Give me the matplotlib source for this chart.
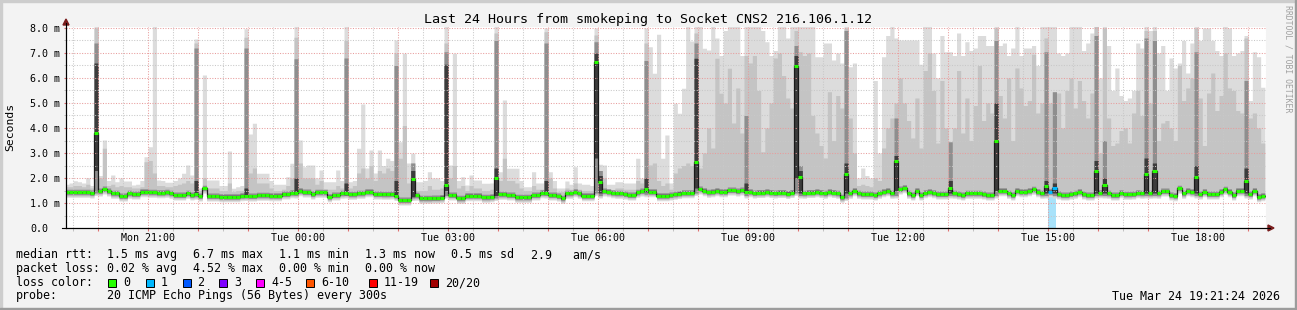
import matplotlib
matplotlib.use('Agg')
import matplotlib.pyplot as plt
from matplotlib.patches import Rectangle, Polygon
from matplotlib.lines import Line2D
from matplotlib.ticker import MultipleLocator, FuncFormatter
import numpy as np

plt.rcParams['font.family'] = ['DejaVu Sans Mono']

# 5 minute steps starting Mon 19:00, one row per hour (last value of a row = step ending on the hour)
median_ms = [
    1.43, 1.43, 1.43, 1.43, 1.43, 1.43, 1.43, 1.43, 1.43, 1.43, 1.40, 3.81,
    1.48, 1.56, 1.48, 1.39, 1.39, 1.28, 1.28, 1.39, 1.36, 1.36, 1.45, 1.45,
    1.43, 1.43, 1.41, 1.41, 1.43, 1.39, 1.32, 1.32, 1.32, 1.39, 1.32, 1.36,
    1.28, 1.59, 1.28, 1.28, 1.28, 1.25, 1.25, 1.25, 1.25, 1.25, 1.29, 1.29,
    1.28, 1.28, 1.31, 1.31, 1.31, 1.29, 1.29, 1.29, 1.36, 1.36, 1.41, 1.41,
    1.49, 1.44, 1.44, 1.36, 1.43, 1.43, 1.43, 1.25, 1.32, 1.32, 1.39, 1.39,
    1.35, 1.35, 1.39, 1.39, 1.45, 1.45, 1.36, 1.36, 1.35, 1.35, 1.36, 1.30,
    1.12, 1.12, 1.12, 1.97, 1.31, 1.19, 1.19, 1.19, 1.20, 1.20, 1.22, 1.72,
    1.32, 1.32, 1.19, 1.19, 1.29, 1.29, 1.29, 1.29, 1.23, 1.23, 1.25, 1.99,
    1.35, 1.35, 1.32, 1.32, 1.23, 1.23, 1.23, 1.23, 1.32, 1.32, 1.41, 1.41,
    1.32, 1.32, 1.28, 1.19, 1.39, 1.39, 1.45, 1.39, 1.29, 1.29, 1.29, 6.65,
    1.85, 1.48, 1.45, 1.41, 1.39, 1.39, 1.36, 1.32, 1.32, 1.43, 1.48, 1.56,
    1.45, 1.45, 1.29, 1.29, 1.29, 1.32, 1.35, 1.38, 1.41, 1.41, 1.41, 2.65,
    1.56, 1.49, 1.43, 1.45, 1.49, 1.45, 1.45, 1.52, 1.52, 1.48, 1.52, 1.46,
    1.45, 1.40, 1.42, 1.42, 1.45, 1.42, 1.40, 1.42, 1.42, 1.38, 1.42, 6.49,
    2.04, 1.39, 1.42, 1.42, 1.45, 1.42, 1.39, 1.45, 1.42, 1.39, 1.23, 2.17,
    1.39, 1.49, 1.39, 1.36, 1.36, 1.36, 1.32, 1.39, 1.45, 1.49, 1.39, 2.68,
    1.56, 1.61, 1.39, 1.32, 1.49, 1.32, 1.41, 1.45, 1.41, 1.36, 1.36, 1.36,
    1.61, 1.39, 1.36, 1.32, 1.39, 1.39, 1.39, 1.39, 1.36, 1.32, 1.32, 3.48,
    1.49, 1.49, 1.39, 1.32, 1.49, 1.45, 1.45, 1.49, 1.55, 1.45, 1.39, 1.69,
    1.45, 1.61, 1.36, 1.32, 1.32, 1.36, 1.39, 1.45, 1.36, 1.32, 1.32, 2.28,
    1.41, 1.72, 1.39, 1.32, 1.32, 1.41, 1.35, 1.35, 1.36, 1.41, 1.39, 2.17,
    1.39, 2.29, 1.39, 1.48, 1.48, 1.32, 1.29, 1.59, 1.39, 1.49, 1.45, 2.05,
    1.36, 1.45, 1.36, 1.36, 1.36, 1.45, 1.55, 1.45, 1.32, 1.49, 1.49, 1.89,
    1.36, 1.49, 1.25, 1.29,
]

# slowest ping of each step (lightest smoke)
smoke_max_ms = [
    1.75, 1.75, 1.75, 1.75, 1.75, 1.80, 1.89, 1.85, 1.80, 2.01, 1.70, 8.20,
    2.10, 3.52, 1.90, 2.12, 1.85, 2.00, 1.88, 1.88, 1.72, 1.75, 1.90, 2.85,
    3.25, 8.20, 1.92, 1.90, 1.83, 1.83, 1.90, 2.00, 2.19, 2.52, 2.12, 7.56,
    1.60, 6.12, 1.92, 1.92, 1.92, 1.70, 1.70, 3.08, 1.59, 1.65, 1.70, 7.97,
    3.76, 4.19, 2.19, 2.19, 2.19, 1.90, 1.75, 1.75, 1.75, 2.05, 2.59, 8.20,
    3.52, 2.45, 2.52, 2.52, 2.00, 2.32, 1.85, 1.85, 1.85, 2.32, 1.90, 8.20,
    1.85, 1.90, 3.19, 4.96, 2.40, 3.12, 2.20, 3.12, 2.50, 2.79, 2.70, 7.52,
    3.45, 6.99, 2.60, 2.99, 1.85, 1.85, 1.90, 2.25, 2.00, 2.00, 1.90, 8.20,
    2.52, 6.99, 1.90, 2.05, 1.72, 2.12, 1.92, 1.92, 1.79, 1.79, 1.80, 8.20,
    2.25, 5.12, 2.39, 2.39, 2.39, 1.90, 1.65, 1.65, 2.25, 1.80, 1.80, 8.00,
    2.25, 1.90, 1.60, 1.60, 1.88, 1.75, 2.45, 1.80, 1.75, 1.75, 1.70, 8.00,
    2.55, 2.52, 1.75, 1.75, 1.85, 1.85, 1.80, 1.80, 1.80, 2.79, 2.00, 8.00,
    7.25, 6.19, 7.75, 2.79, 3.72, 1.80, 4.99, 4.59, 5.59, 8.20, 7.48, 8.20,
    8.20, 7.19, 7.12, 8.20, 7.60, 6.90, 7.90, 8.20, 8.20, 8.20, 6.90, 8.20,
    8.20, 8.20, 8.20, 7.90, 7.45, 6.90, 7.10, 8.20, 8.20, 7.60, 8.20, 8.20,
    8.20, 8.20, 8.20, 8.20, 6.85, 6.85, 7.40, 7.40, 6.72, 7.00, 6.60, 8.20,
    6.45, 6.60, 2.00, 2.40, 2.10, 2.00, 5.90, 3.00, 6.85, 7.70, 8.20, 7.60,
    7.52, 7.52, 7.52, 7.52, 7.52, 6.55, 8.20, 8.20, 7.00, 6.00, 7.70, 7.05,
    7.05, 6.90, 7.80, 6.90, 7.45, 7.10, 7.20, 7.70, 7.70, 7.30, 7.30, 8.20,
    7.30, 7.40, 6.90, 7.20, 8.20, 6.90, 7.20, 7.20, 7.30, 6.50, 8.20, 8.20,
    8.20, 8.20, 7.00, 6.90, 7.00, 8.20, 8.20, 8.20, 7.10, 7.40, 7.80, 8.20,
    6.00, 8.20, 7.30, 5.50, 6.40, 5.30, 5.10, 5.20, 5.50, 7.40, 7.20, 8.20,
    7.90, 8.20, 7.00, 7.30, 5.50, 6.80, 6.40, 6.60, 7.50, 6.20, 7.40, 8.20,
    7.50, 8.00, 8.00, 7.50, 7.10, 6.90, 8.20, 8.00, 6.90, 7.00, 7.10, 7.70,
    5.10, 7.05, 6.85, 5.63,
]

# upper edge of the medium grey smoke
smoke_grey_ms = [
    1.65, 1.65, 1.65, 1.65, 1.65, 1.65, 1.70, 1.70, 1.65, 1.75, 1.60, 8.00,
    2.00, 3.19, 1.70, 1.75, 1.65, 1.70, 1.65, 1.65, 1.60, 1.60, 1.65, 2.65,
    2.70, 2.20, 1.70, 1.70, 1.65, 1.65, 1.70, 1.75, 1.80, 1.90, 1.80, 7.40,
    1.50, 2.00, 1.60, 1.60, 1.60, 1.50, 1.50, 1.80, 1.45, 1.50, 1.50, 7.63,
    2.20, 2.40, 1.80, 1.80, 1.80, 1.60, 1.50, 1.50, 1.55, 1.70, 2.00, 7.63,
    2.60, 2.00, 2.00, 2.00, 1.75, 1.90, 1.55, 1.55, 1.55, 1.70, 1.60, 7.50,
    1.60, 1.70, 2.20, 2.40, 2.00, 2.50, 1.90, 2.30, 2.20, 2.40, 2.30, 7.00,
    2.79, 4.10, 1.80, 2.60, 1.50, 1.50, 1.50, 1.70, 1.55, 1.55, 1.60, 7.40,
    2.00, 2.50, 1.60, 1.70, 1.50, 1.70, 1.60, 1.60, 1.50, 1.50, 1.55, 7.80,
    1.90, 2.79, 1.90, 1.90, 1.80, 1.60, 1.50, 1.50, 1.70, 1.55, 1.55, 7.85,
    2.00, 1.60, 1.45, 1.45, 1.60, 1.55, 1.80, 1.55, 1.50, 1.50, 1.50, 7.72,
    2.30, 2.00, 1.50, 1.50, 1.60, 1.60, 1.55, 1.55, 1.55, 1.90, 1.80, 7.40,
    2.52, 2.60, 1.90, 1.70, 1.80, 1.55, 2.20, 2.40, 2.50, 2.60, 2.50, 7.80,
    2.40, 3.00, 4.00, 3.20, 6.79, 5.39, 5.00, 6.39, 4.20, 5.60, 3.80, 6.90,
    6.60, 6.90, 5.50, 3.05, 4.00, 5.00, 6.80, 7.00, 6.10, 5.20, 4.80, 7.90,
    7.05, 6.90, 7.00, 4.50, 3.80, 3.30, 2.80, 5.45, 3.50, 5.30, 4.80, 8.00,
    4.40, 3.00, 1.70, 1.75, 1.70, 1.65, 2.00, 1.90, 3.20, 4.00, 4.40, 5.00,
    6.00, 5.00, 4.30, 3.60, 5.20, 3.20, 6.30, 7.00, 5.50, 3.40, 5.90, 4.00,
    2.50, 4.00, 6.30, 3.80, 5.20, 3.50, 4.90, 6.50, 4.30, 5.00, 4.60, 8.00,
    5.30, 4.40, 6.00, 3.50, 6.40, 5.60, 4.90, 5.10, 6.95, 4.60, 5.00, 7.60,
    5.00, 5.45, 5.40, 4.00, 5.50, 6.00, 4.80, 5.90, 5.10, 4.40, 5.40, 8.10,
    3.00, 8.00, 4.40, 3.30, 3.40, 3.90, 4.00, 3.40, 4.60, 5.50, 4.50, 7.90,
    5.00, 7.90, 3.50, 4.20, 4.30, 4.00, 3.50, 6.50, 5.10, 5.60, 6.00, 8.00,
    5.20, 3.30, 5.40, 6.20, 4.70, 5.30, 7.00, 5.60, 5.50, 4.70, 4.60, 7.60,
    4.40, 4.60, 4.00, 3.40,
]

# steps where the inner (dark) smoke stretches out
burst_step    = [11, 35, 47, 59, 71, 83, 87, 95, 107, 119, 131, 132, 143, 155, 167,
                 179, 180, 191, 203, 216, 227, 239, 241, 251, 253, 263, 265, 275, 287]
burst_base    = [1.30, 1.15, 1.10, 1.20, 1.20, 1.10, 1.10, 1.20, 1.10, 1.20, 1.30, 1.20, 1.25, 1.30, 1.20,
                 1.30, 1.20, 1.10, 1.20, 1.20, 1.20, 1.20, 1.20, 1.20, 1.20, 1.20, 1.20, 1.20, 1.20]
burst_dark_lo = [2.30, 1.30, 1.22, 1.35, 1.33, 1.25, 1.25, 1.50, 1.30, 1.35, 2.80, 1.40, 1.45, 1.60, 1.40,
                 2.00, 1.40, 1.40, 1.50, 1.40, 1.50, 1.40, 1.40, 1.40, 1.40, 1.40, 1.40, 1.40, 1.40]
burst_dark_hi = [6.60, 1.90, 1.60, 2.00, 1.80, 1.90, 2.30, 6.55, 2.40, 1.90, 7.00, 2.10, 2.00, 6.79, 1.80,
                 6.90, 2.30, 2.60, 2.90, 1.90, 5.00, 1.90, 1.80, 2.70, 2.00, 2.80, 2.60, 2.50, 2.40]
burst_mid_hi  = [7.40, 7.20, 7.20, 6.77, 6.80, 6.50, 2.60, 7.05, 7.50, 7.40, 7.45, 2.30, 6.70, 7.40, 4.50,
                 7.30, 2.50, 7.90, 4.40, 3.45, 7.50, 7.05, 5.45, 7.70, 3.50, 7.60, 7.50, 7.05, 5.90]

# steps with packet loss (pings lost out of 20)
loss_step = [240, 241]
loss_count = [1, 1]

hour_ticks = [21, 24, 27, 30, 33, 36, 39, 42]
hour_labels = ['Mon 21:00', 'Tue 00:00', 'Tue 03:00', 'Tue 06:00',
               'Tue 09:00', 'Tue 12:00', 'Tue 15:00', 'Tue 18:00']
y_labels = ['0.0', '1.0 m', '2.0 m', '3.0 m', '4.0 m', '5.0 m', '6.0 m', '7.0 m', '8.0 m']

legend_names = ['0', '1', '2', '3', '4-5', '6-10', '11-19', '20/20']
legend_colors = ['#26ff00', '#00b8ff', '#0059ff', '#7e00ff', '#ff00ff', '#ff5500', '#ff0000', '#a10000']

W, H = 1297, 310


def fx(x):
    return x / W


def fy(y):
    return 1 - y / H


fig = plt.figure(figsize=(W / 100, H / 100), dpi=100)
fig.patch.set_facecolor('#f3f3f3')

ax = fig.add_axes([fx(66), fy(228), 1200 / W, 201 / H])
ax.set_facecolor('white')
start = 19 + 21 / 60 + 24 / 3600
ax.set_xlim(start, start + 24)
ax.set_ylim(0, 8.04)

n = len(median_ms)
edges = 19 + np.arange(n + 1) / 12
med = np.array(median_ms)
top = np.array(smoke_max_ms)
grey = np.array(smoke_grey_ms)

base = med - 0.2
mid_lo = med - 0.1
mid_hi = med + 0.12
dark_lo = med - 0.05
dark_hi = med + 0.06
for i, s in enumerate(burst_step):
    base[s] = burst_base[i]
    mid_lo[s] = burst_base[i] + 0.1
    mid_hi[s] = burst_mid_hi[i]
    dark_lo[s] = burst_dark_lo[i]
    dark_hi[s] = burst_dark_hi[i]


def ext(a):
    return np.append(a, a[-1])


# loss background
for s in loss_step:
    ax.bar(edges[s], 8.04, width=1 / 12, align='edge', color='#a8e2fa', lw=0, zorder=1)

# smoke, outer to inner
ax.fill_between(edges, ext(base), ext(top), step='post', color='#dcdcdc', lw=0, zorder=2)
ax.fill_between(edges, ext(base + 0.05), ext(grey), step='post', color='#c4c4c4', lw=0, zorder=2)
ax.fill_between(edges, ext(mid_lo), ext(mid_hi), step='post', color='#8e8e8e', lw=0, zorder=2)
ax.fill_between(edges, ext(dark_lo), ext(dark_hi), step='post', color='#3c3c3c', lw=0, zorder=2)

# median
ax.step(edges, ext(med), where='post', color='#1a1a1a', lw=0.9, zorder=4)
cols = ['#26ff00'] * n
for s, c in zip(loss_step, loss_count):
    cols[s] = legend_colors[c]
ax.hlines(med, edges[:-1], edges[1:], colors=cols, lw=2.2, zorder=5, capstyle='butt')

# grid
ax.xaxis.set_major_locator(MultipleLocator(1))
ax.xaxis.set_minor_locator(MultipleLocator(0.5))
ax.yaxis.set_major_locator(MultipleLocator(1))
ax.yaxis.set_minor_locator(MultipleLocator(0.5))
ax.set_axisbelow(False)
ax.grid(True, which='major', color='#e89c9c', linestyle=(0, (1, 1.5)), linewidth=0.75)
ax.grid(True, which='minor', color='#c8c8c8', linestyle=(0, (1, 1.5)), linewidth=0.75)
ax.axvline(start + 24, color='#e89c9c', linestyle=(0, (1, 1.5)), linewidth=0.75)

label_for = dict(zip(hour_ticks, hour_labels))
ax.xaxis.set_major_formatter(FuncFormatter(lambda v, p: label_for.get(int(round(v)), '')))
ax.yaxis.set_major_formatter(FuncFormatter(lambda v, p: y_labels[int(round(v))] if 0 <= round(v) < len(y_labels) else ''))
ax.tick_params(axis='x', which='major', length=2, color='#e07070', pad=1.5, labelsize=7.2)
ax.tick_params(axis='x', which='minor', length=2, color='#b8b8b8')
ax.tick_params(axis='y', which='major', length=1.5, color='#e07070', pad=24.4, labelsize=7.2)
ax.tick_params(axis='y', which='minor', length=1.5, color='#b8b8b8')
for lab in ax.get_yticklabels():
    lab.set_horizontalalignment('left')

for side in ['top', 'right']:
    ax.spines[side].set_visible(False)
for side in ['left', 'bottom']:
    ax.spines[side].set_color('black')
    ax.spines[side].set_linewidth(0.8)
    ax.spines[side].set_zorder(6)

# axis extensions and arrows
fig.add_artist(Line2D([fx(66), fx(66)], [fy(228), fy(23)], color='black', lw=0.8))
fig.add_artist(Line2D([fx(62), fx(1270)], [fy(228), fy(228)], color='black', lw=0.8))
fig.add_artist(Polygon([[fx(63), fy(25)], [fx(69), fy(25)], [fx(66), fy(19)]], closed=True,
                       color='#7a1e1e', transform=fig.transFigure))
fig.add_artist(Polygon([[fx(1268), fy(225)], [fx(1268), fy(231)], [fx(1274), fy(228)]], closed=True,
                       color='#7a1e1e', transform=fig.transFigure))

# titles
fig.text(fx(647.5), fy(19.3), 'Last 24 Hours from smokeping to Socket CNS2 216.106.1.12',
         ha='center', va='center', fontsize=9.6)
fig.text(fx(10.5), fy(127), 'Seconds', rotation=90, ha='center', va='center', fontsize=8.2)
fig.text(fx(1288), fy(59), 'RRDTOOL / TOBI OETIKER', rotation=-90, ha='center', va='center',
         fontsize=5.9, color='#a0a0a0')

# legend block
fs = 8.4
fig.text(fx(16), fy(254.5), 'median rtt:', va='center', fontsize=fs)
for x, s in zip([107, 193, 279, 365, 451, 531],
                ['1.5 ms avg', '6.7 ms max', '1.1 ms min', '1.3 ms now', '0.5 ms sd', '2.9   am/s']):
    fig.text(fx(x), fy(254.5), s, va='center', fontsize=fs)
fig.text(fx(16), fy(268.5), 'packet loss:', va='center', fontsize=fs)
for x, s in zip([107, 193, 279, 365], ['0.02 % avg', '4.52 % max', '0.00 % min', '0.00 % now']):
    fig.text(fx(x), fy(268.5), s, va='center', fontsize=fs)
fig.text(fx(16), fy(282.5), 'loss color:', va='center', fontsize=fs)
box_x = [108, 145.5, 182.5, 219, 256, 306, 369, 430]
for x, name, c in zip(box_x, legend_names, legend_colors):
    fig.add_artist(Rectangle((fx(x), fy(286.5)), 8 / W, 8 / H, facecolor=c, edgecolor='black',
                             lw=0.7, transform=fig.transFigure))
    fig.text(fx(x + 15), fy(282.5), name, va='center', fontsize=fs)
fig.text(fx(16), fy(296), 'probe:', va='center', fontsize=fs)
fig.text(fx(107), fy(296), '20 ICMP Echo Pings (56 Bytes) every 300s', va='center', fontsize=fs)
fig.text(fx(1280), fy(296), 'Tue Mar 24 19:21:24 2026', ha='right', va='center', fontsize=fs)

# frame
fig.add_artist(Rectangle((0, fy(2)), 1, 2 / H, color='#cdcdcd', transform=fig.transFigure))
fig.add_artist(Rectangle((0, 0), 2 / W, 1, color='#cdcdcd', transform=fig.transFigure))
fig.add_artist(Rectangle((0, 0), 1, 2 / H, color='#9c9c9c', transform=fig.transFigure))
fig.add_artist(Rectangle((fx(W - 2), 0), 2 / W, 1, color='#9c9c9c', transform=fig.transFigure))

fig.savefig('out.png', dpi=100, facecolor=fig.get_facecolor())
